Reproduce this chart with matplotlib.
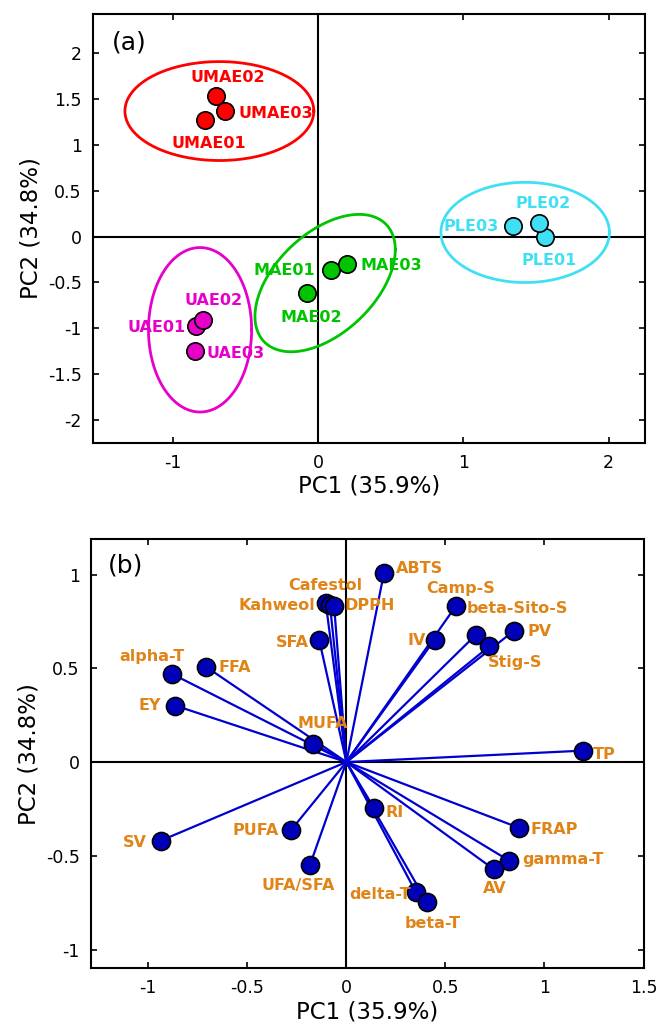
import numpy as np
import matplotlib
matplotlib.use('Agg')
import matplotlib.pyplot as plt

plt.rcParams['font.family'] = ['DejaVu Sans']

# Panel (a): scores
sample_names = ['UMAE01', 'UMAE02', 'UMAE03',
                'PLE01', 'PLE02', 'PLE03',
                'MAE01', 'MAE02', 'MAE03',
                'UAE01', 'UAE02', 'UAE03']
sample_group = ['UMAE', 'UMAE', 'UMAE', 'PLE', 'PLE', 'PLE',
                'MAE', 'MAE', 'MAE', 'UAE', 'UAE', 'UAE']
score_pc1 = [-0.78, -0.70, -0.64, 1.56, 1.52, 1.34, 0.09, -0.08, 0.20, -0.84, -0.79, -0.85]
score_pc2 = [1.27, 1.53, 1.37, 0.00, 0.15, 0.12, -0.37, -0.62, -0.30, -0.98, -0.91, -1.25]

# label anchor points and alignment for the sample names
score_lab_x = [-0.75, -0.62, -0.55, 1.59, 1.55, 1.24, -0.02, -0.05, 0.29, -0.91, -0.72, -0.77]
score_lab_y = [1.02, 1.74, 1.34, -0.26, 0.36, 0.11, -0.37, -0.88, -0.32, -0.99, -0.70, -1.28]
score_lab_ha = ['center', 'center', 'left', 'center', 'center', 'right',
                'right', 'center', 'left', 'right', 'center', 'left']

# confidence ellipses: centre, x half-range, y half-range, phase (deg)
groups = ['UMAE', 'PLE', 'MAE', 'UAE']
group_colors = ['#ff0000', '#40e0f4', '#00c400', '#e600c8']
ell_cx = [-0.68, 1.425, 0.048, -0.813]
ell_cy = [1.37, 0.045, -0.508, -1.018]
ell_ax = [0.65, 0.58, 0.483, 0.355]
ell_by = [0.54, 0.547, 0.75, 0.898]
ell_phase = [90, 90, 61, 90]

# Panel (b): loadings
var_names = ['ABTS', 'Cafestol', 'Kahweol', 'DPPH', 'SFA', 'alpha-T', 'FFA', 'EY',
             'MUFA', 'Camp-S', 'beta-Sito-S', 'Stig-S', 'PV', 'IV', 'TP',
             'SV', 'PUFA', 'UFA/SFA', 'RI', 'delta-T', 'beta-T', 'FRAP', 'gamma-T', 'AV']
load_pc1 = [0.19, -0.104, -0.083, -0.062, -0.137, -0.88, -0.707, -0.863,
            -0.167, 0.551, 0.652, 0.722, 0.846, 0.445, 1.197,
            -0.936, -0.277, -0.184, 0.139, 0.35, 0.406, 0.872, 0.823, 0.744]
load_pc2 = [1.01, 0.849, 0.84, 0.835, 0.652, 0.47, 0.507, 0.301,
            0.097, 0.83, 0.677, 0.617, 0.70, 0.652, 0.061,
            -0.419, -0.36, -0.55, -0.244, -0.692, -0.747, -0.351, -0.527, -0.572]
load_lab_x = [0.25, -0.105, -0.158, -0.01, -0.19, -0.983, -0.645, -0.934,
              -0.121, 0.579, 0.605, 0.85, 0.915, 0.40, 1.246,
              -1.008, -0.342, -0.243, 0.199, 0.327, 0.434, 0.932, 0.887, 0.748]
load_lab_y = [1.03, 0.943, 0.835, 0.835, 0.638, 0.563, 0.507, 0.303,
              0.208, 0.928, 0.817, 0.53, 0.695, 0.647, 0.038,
              -0.428, -0.366, -0.661, -0.267, -0.706, -0.862, -0.36, -0.522, -0.676]
load_lab_ha = ['left', 'center', 'right', 'left', 'right', 'center', 'left', 'right',
               'center', 'center', 'left', 'center', 'left', 'right', 'left',
               'right', 'right', 'center', 'left', 'right', 'center', 'left', 'left', 'center']


def style_axes(ax, xlim, ylim, xticks, yticks):
    ax.set_xlim(xlim)
    ax.set_ylim(ylim)
    ax.set_xticks(xticks)
    ax.set_yticks(yticks)
    ax.set_xticklabels(['%g' % t for t in xticks])
    ax.set_yticklabels(['%g' % t for t in yticks])
    ax.tick_params(direction='in', length=4, width=1.2, top=True, right=True,
                   labelsize=12.5, pad=8)
    for s in ax.spines.values():
        s.set_linewidth(1.5)
    ax.axhline(0, color='k', lw=1.5, zorder=1)
    ax.axvline(0, color='k', lw=1.5, zorder=1)
    ax.set_xlabel('PC1 (35.9%)', fontsize=16.5, labelpad=2)
    ax.set_ylabel('PC2 (34.8%)', fontsize=16.5, labelpad=4)


fig = plt.figure(figsize=(6.58, 10.27), dpi=100)
ax1 = fig.add_axes([0.1413, 0.5690, 0.8390, 0.4174])
ax2 = fig.add_axes([0.1380, 0.0572, 0.8400, 0.4180])

# ---- panel (a)
style_axes(ax1, (-1.55, 2.25), (-2.25, 2.43), [-1, 0, 1, 2],
           [-2, -1.5, -1, -0.5, 0, 0.5, 1, 1.5, 2])
t = np.linspace(0, 2 * np.pi, 300)
for g, c, cx, cy, a, b, ph in zip(groups, group_colors, ell_cx, ell_cy, ell_ax, ell_by, ell_phase):
    ax1.plot(cx + a * np.cos(t), cy + b * np.cos(t - np.radians(ph)), color=c, lw=2, zorder=2)
    idx = [i for i, sg in enumerate(sample_group) if sg == g]
    ax1.plot([score_pc1[i] for i in idx], [score_pc2[i] for i in idx], 'o',
             color=c, mec='k', mew=1.2, ms=12.5, zorder=3)
    for i in idx:
        ax1.text(score_lab_x[i], score_lab_y[i], sample_names[i], color=c,
                 fontsize=11.5, fontweight='bold', ha=score_lab_ha[i], va='center')
ax1.text(-1.30, 2.12, '(a)', fontsize=18, ha='center', va='center')

# ---- panel (b)
style_axes(ax2, (-1.29, 1.5), (-1.1, 1.19), [-1, -0.5, 0, 0.5, 1, 1.5],
           [-1, -0.5, 0, 0.5, 1])
for x, y in zip(load_pc1, load_pc2):
    ax2.plot([0, x], [0, y], color='#0000d0', lw=1.6, zorder=2)
ax2.plot(load_pc1, load_pc2, 'o', color='#0000b8', mec='k', mew=1.2, ms=13, zorder=3)
for n, x, y, ha in zip(var_names, load_lab_x, load_lab_y, load_lab_ha):
    ax2.text(x, y, n, color='#e08418', fontsize=11.5, fontweight='bold', ha=ha, va='center')
ax2.text(-1.115, 1.05, '(b)', fontsize=18, ha='center', va='center')

fig.savefig('out.png', dpi=100)
